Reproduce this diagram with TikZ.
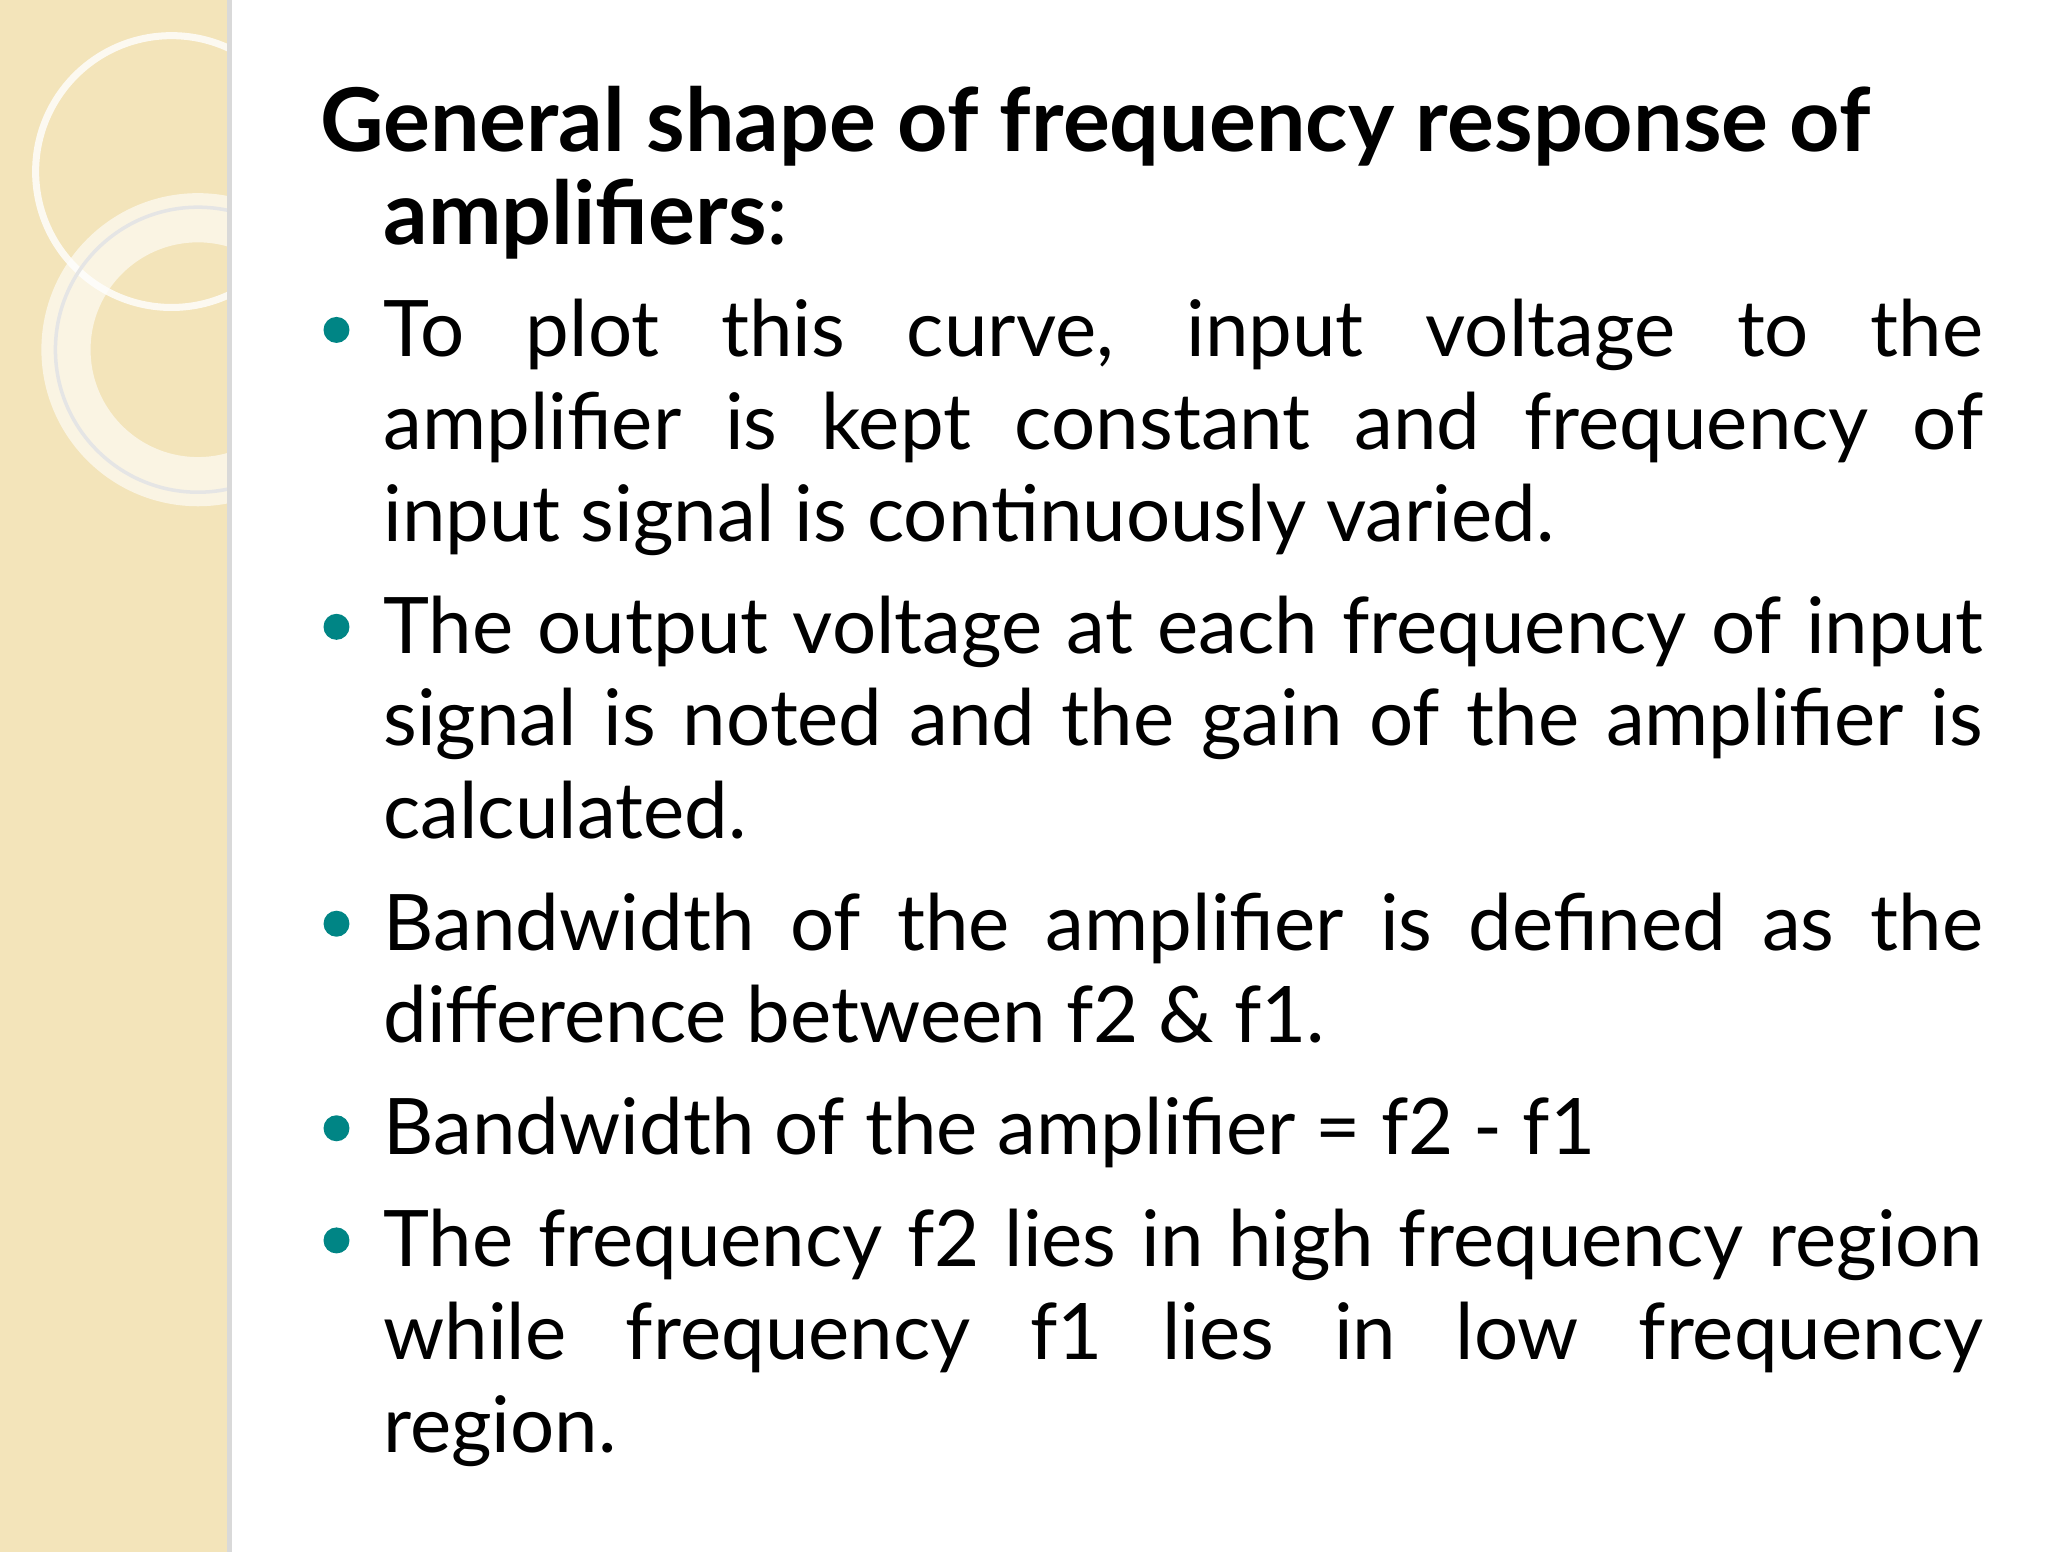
\documentclass[tikz,border=0pt]{standalone}
\usepackage{fontspec}
\setmainfont{Lato}
\begin{document}
\begin{tikzpicture}[x=0.013196cm,y=-0.013196cm,
  para/.style={anchor=base west,text width=16.0cm,align=justify,inner sep=0pt,font=\fontsize{22.2}{26.4}\selectfont,execute at begin node={\hyphenpenalty=10000\relax\exhyphenpenalty=10000\relax}},
  ttl/.style={anchor=base west,inner sep=0pt,font=\fontsize{25}{26.4}\selectfont\bfseries},
  bul/.style={circle,fill=teal!70!cyan!80!black,minimum size=0.26cm,inner sep=0pt}]
\definecolor{strip}{HTML}{F3E4BA}
\useasboundingbox (0,0) rectangle (1552,1176);
\fill[white] (0,0) rectangle (1552,1176);
\fill[strip] (0,0) rectangle (172,1176);
\fill[black!15] (172,0) rectangle (176,1176);
\begin{scope}
\clip (0,0) rectangle (172,1176);
\draw[white,line width=2pt,opacity=0.8] (130,130) circle (103);
\draw[white,line width=14pt,opacity=0.6] (150,265) circle (100);
\draw[black!10,line width=1pt] (150,265) circle (108);
\end{scope}
\node[ttl] (t1) at (242,115) {General shape of frequency response of};
\node[ttl] (t2) at (290,185) {amplifiers\textmd{:}};
\node[para] (p1) at (290,270) {To plot this curve, input voltage to the\linebreak amplifier is kept constant and frequency of\linebreak input signal is continuously varied.};
\node[para] (p2) at (290,495) {The output voltage at each frequency of input\linebreak signal is noted and the gain of the amplifier is\linebreak calculated.};
\node[para] (p3) at (290,720) {Bandwidth of the amplifier is defined as the\linebreak difference between f2 \& f1.};
\node[para] (p4) at (290,875) {Bandwidth of the amplifier = f2 - f1};
\node[para] (p5) at (290,960) {The frequency f2 lies in high frequency region\linebreak while frequency f1 lies in low frequency\linebreak region.};
\foreach \y/\n in {250/b1,475/b2,700/b3,855/b4,940/b5} \node[bul] (\n) at (255,\y) {};
\end{tikzpicture}
\end{document}
